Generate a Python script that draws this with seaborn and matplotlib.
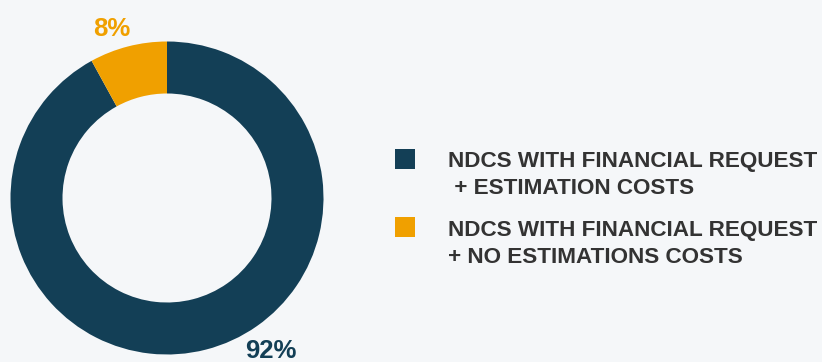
import matplotlib
matplotlib.use("Agg")
import matplotlib.pyplot as plt
import seaborn as sns
from matplotlib.patches import Rectangle

# Share of NDCs with a financial request, by whether they estimate costs
categories = ["NDCS WITH FINANCIAL REQUEST\n + ESTIMATION COSTS",
              "NDCS WITH FINANCIAL REQUEST\n+ NO ESTIMATIONS COSTS"]
shares = [92, 8]
pct_labels = ["92%", "8%"]
colors = ["#133f56", "#f0a000"]

BG = "#f5f7f9"
TEXT = "#333333"

sns.set_theme(style="white")
plt.rcParams["font.family"] = ["Liberation Sans", "DejaVu Sans"]

W, H = 822, 362
fig = plt.figure(figsize=(W / 100, H / 100), dpi=100, facecolor=BG)

# donut axes, placed in pixel terms
cx, cy, r = 167, H - 198, 156.5
ax = fig.add_axes([(cx - r) / W, (cy - r) / H, 2 * r / W, 2 * r / H])
ax.set_facecolor(BG)
wedges, _ = ax.pie(shares, colors=colors, startangle=90, counterclock=False,
                   radius=1.0, wedgeprops=dict(width=52 / 156.5, linewidth=0))
ax.set_xlim(-1, 1)
ax.set_ylim(-1, 1)
ax.set_aspect("equal")
ax.axis("off")

# percentage labels outside the ring
fig.text(271 / W, (H - 358) / H, pct_labels[0], color=colors[0],
         fontsize=18.5, fontweight="bold", ha="center", va="baseline")
fig.text(112 / W, (H - 36.5) / H, pct_labels[1], color=colors[1],
         fontsize=18.5, fontweight="bold", ha="center", va="baseline")

# legend
sq_tops = [149, 217]
baselines = [(167.5, 194), (236, 262.7)]
for lab, col, top, (b1, b2) in zip(categories, colors, sq_tops, baselines):
    fig.patches.append(Rectangle((395 / W, (H - top - 20) / H), 20 / W, 20 / H,
                                 transform=fig.transFigure, facecolor=col,
                                 edgecolor="none"))
    l1, l2 = lab.split("\n")
    fig.text(447.5 / W, (H - b1) / H, l1, color=TEXT, fontsize=16.2,
             fontweight="bold", ha="left", va="baseline")
    fig.text(447.5 / W, (H - b2) / H, l2, color=TEXT, fontsize=16.2,
             fontweight="bold", ha="left", va="baseline")

fig.savefig("out.png", dpi=100, facecolor=BG)
